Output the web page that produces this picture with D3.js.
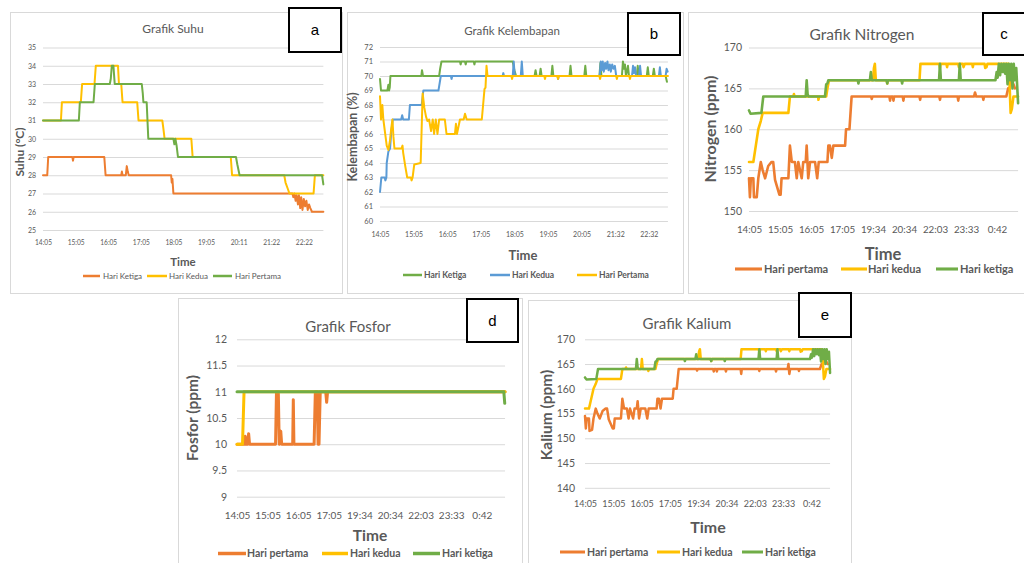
<!DOCTYPE html>
<html>
<head>
<meta charset="utf-8">
<script src="https://cdn.jsdelivr.net/npm/d3@7"></script>
<style>
  html,body{margin:0;padding:0;background:#fff;}
  svg{display:block;font-family:Lato,"Open Sans",sans-serif;}
</style>
</head>
<body>
<script>
// ---------------- DATA ----------------
// x = sample index (10 samples between consecutive time labels), y = measured value

// (a) Grafik Suhu
const suhuTimeLabels = ["14:05","15:05","16:05","17:05","18:05","19:05","20:11","21:22","22:22"];
const suhuTicks = [25,26,27,28,29,30,31,32,33,34,35];
const suhuKetiga = [[0,28],[1.3,28],[1.6,29],[9.0,29],[9.2,28.8],[9.4,29],[18.8,29],[19.2,28],[24.0,28],[24.2,28.2],[24.4,28],[25.4,28],[25.7,28.5],[26.0,28.2],[26.3,28],[39.3,28],[39.5,27.6],[39.7,27.8],[40.0,27],[76.5,27],[76.8,26.8],[77.1,27],[77.5,26.6],[77.8,26.9],[78.2,26.4],[78.5,26.9],[78.9,26.2],[79.2,26.8],[79.6,26.1],[80.0,26.7],[80.4,26.3],[80.8,26.6],[81.2,26.1],[81.6,26.4],[82.0,26.2],[82.5,26.0],[86,26]];
const suhuKedua = [[0,31],[5.5,31],[5.8,32],[11.6,32],[12.0,33],[15.8,33],[16.2,34],[23.0,34],[23.3,33],[24.0,33],[24.4,32],[28.9,32],[29.3,31],[36.6,31],[36.9,30.6],[37.3,30],[45.5,30],[45.9,29],[57.6,29],[58.0,28],[74.0,28],[74.4,27.6],[75.0,27.3],[75.6,27],[83.0,27],[83.4,28],[86,28]];
const suhuPertama = [[0,31],[11.0,31],[11.3,32],[15.5,32],[15.9,33],[20.5,33],[20.8,33.3],[21.1,34],[21.6,34],[22.0,33],[30.3,33],[30.6,32.5],[30.8,32],[31.8,32],[32.3,30],[40.0,30],[40.3,29.7],[40.6,30],[41.0,29.6],[41.4,29],[59.2,29],[59.6,28.6],[60.3,28],[85.6,28],[86,27.5]];

// (b) Grafik Kelembapan
const kelembapanTimeLabels = ["14:05","15:05","16:05","17:05","18:05","19:05","20:05","21:32","22:32"];
const kelembapanTicks = [60,61,62,63,64,65,66,67,68,69,70,71,72];
const kelembapanKetiga = [[0,69.8],[0.3,69],[2.2,69],[2.5,69.4],[2.7,69],[2.9,69.2],[3.1,70],[12.3,70],[12.5,70.4],[12.8,70],[17.6,70],[17.9,70.5],[18.3,71],[23.8,71],[24.0,70.8],[24.2,71],[25.3,71],[25.5,70.8],[25.7,71],[27.9,71],[28.1,70.8],[28.3,71],[39.5,71],[40.0,70.4],[40.5,70],[46.0,70],[46.3,70.4],[46.6,70],[47.5,70],[47.8,70.5],[48.1,70],[51.0,70],[51.3,70.7],[51.6,70],[56.4,70],[56.7,70.7],[57.0,70],[60.8,70],[61.1,70.7],[61.4,70],[65.3,70],[65.6,70.9],[65.9,70],[72.0,70],[72.3,71],[72.6,70.5],[72.9,70.8],[73.2,70],[73.8,70.7],[74.1,70],[76.4,70],[76.7,70.7],[77.0,70],[79.4,70],[79.7,70.6],[80.0,70],[81.2,70],[81.5,70.5],[81.8,70],[85.0,70],[85.4,69.6]];
const kelembapanKedua = [[0,62],[0.4,63],[1.4,63],[1.6,62.8],[1.9,63],[2.0,64],[2.5,64.8],[3.0,65],[3.3,66],[3.8,67],[6.3,67],[6.6,67.3],[6.9,67],[8.6,67],[8.9,68],[12.4,68],[12.9,69],[17.4,69],[18.1,70],[21.1,70],[21.3,69.8],[21.5,70],[36.5,70],[36.7,70.2],[36.9,70],[39.5,70],[39.8,71],[40.1,70],[41.9,70],[42.2,71],[42.5,70],[52.8,70],[53.0,69.8],[53.2,70],[65.4,70],[65.7,71],[66.0,70.4],[66.3,71],[66.6,70.3],[67.0,70.9],[67.3,70.5],[67.7,71],[68.0,70.4],[68.4,70.8],[68.7,70.3],[69.1,70.8],[69.5,70.5],[69.9,70.7],[70.3,70],[75.0,70],[75.3,70.7],[75.6,70.2],[75.9,70.6],[76.2,70],[77.1,70],[77.4,70.7],[77.7,70],[83.0,70],[83.3,70.6],[83.6,70],[85.0,70],[85.3,70.5],[85.6,70.3]];
const kelembapanPertama = [[0,68.6],[0.3,67],[0.7,68],[1.0,67],[1.5,66.1],[2.0,65.2],[2.5,64.9],[3.0,65.6],[3.3,66.3],[3.7,67],[4.0,65.8],[4.3,65],[6.4,65],[6.7,65.2],[6.9,64.7],[7.5,63.8],[8.1,63],[9.2,63],[9.4,62.8],[9.7,63],[10.2,63.9],[12.1,64],[12.7,68.8],[13.2,67.8],[13.7,67.2],[14.1,66.9],[14.6,67],[15.2,66.2],[15.7,67],[16.1,66],[16.6,67],[17.1,66],[17.6,67],[19.3,67],[19.8,66],[22.3,66],[22.6,66.7],[22.9,66],[23.8,67],[24.9,67],[25.3,67.4],[25.8,67],[30.3,67],[30.8,68.3],[31.1,69.1],[31.4,69.2],[31.7,70.7],[32.0,70],[39.1,70],[39.3,69.8],[39.5,70],[48.9,70],[49.1,69.8],[49.3,70],[52.8,70],[53.0,69.8],[53.2,70],[65.3,70],[65.5,69.8],[65.7,70],[70.3,70],[70.5,69.8],[70.7,70],[74.2,70],[74.4,69.8],[74.6,70],[85.7,70]];

// (c) Grafik Nitrogen, (d) Grafik Fosfor, (e) Grafik Kalium share time labels
const nutrientTimeLabels = ["14:05","15:05","16:05","17:05","19:34","20:34","22:03","23:33","0:42"];
const nitrogenTicks = [150,155,160,165,170];
const nitrogenPertama = [[0,154],[0.3,151.7],[0.6,154],[1.4,154],[1.6,151.7],[2.5,151.7],[3.0,154],[3.8,156],[4.4,155],[5.2,154],[6.2,155.5],[7.3,156],[7.8,156],[8.4,153.8],[9.8,152],[10.2,152],[10.5,154],[12.7,154],[13.2,158],[13.8,156],[14.8,156],[15.4,154],[15.9,156],[17.0,154],[17.5,156],[18.3,156],[18.6,158],[19.1,154],[19.7,156],[21.3,156],[22.0,154],[22.5,156],[25.3,156],[25.6,158],[26.1,158],[26.7,156.5],[27.2,158],[31.0,158],[31.3,160],[32.4,160],[33.1,164],[39.4,164],[39.6,163.7],[39.8,164],[45.3,164],[45.5,163.5],[45.7,164],[46.4,164],[46.6,163.5],[46.8,164],[49.6,164],[49.8,163.5],[50.0,164],[55.0,164],[55.2,163.6],[55.4,164],[61.4,164],[61.6,163.6],[61.8,164],[67.3,164],[67.5,163.5],[67.7,164],[72.6,164],[72.9,164.5],[73.3,164],[75.4,164],[75.6,163.6],[75.8,164],[83.0,164],[83.6,165],[84.0,164.8],[84.7,166],[85.3,165.5],[85.8,165]];
const nitrogenKedua = [[0,156],[1.4,156],[2.2,158],[3.0,160],[3.8,161],[4.4,162],[12.7,162],[13.2,164],[14.3,164],[14.5,164.3],[14.7,164],[22.3,164],[22.4,163.6],[22.6,164],[24.9,164],[25.3,165],[25.8,166],[40.0,166],[40.3,167.5],[40.6,168],[40.9,166],[44.4,166],[44.6,165.6],[44.8,166],[55.0,166],[55.3,168],[61.4,168],[61.6,167.5],[61.8,168],[63.7,168],[63.9,167.6],[64.1,168],[67.5,168],[67.7,167.6],[67.9,168],[69.0,168],[69.2,167.6],[69.6,168],[72.0,168],[72.2,167.6],[72.4,168],[76.0,168],[76.2,167.5],[76.6,167.6],[76.9,168],[83.7,168],[84.1,165],[84.4,162],[84.8,162.5],[85.3,164],[86.8,164]];
const nitrogenKetiga = [[0,162.3],[0.5,161.9],[4.0,162],[4.6,164],[18.3,164],[18.6,166],[18.9,164.3],[19.2,164],[24.5,164],[24.9,165.5],[25.3,165.6],[25.6,166],[35.1,166],[35.3,165.6],[35.5,166],[39.0,166],[39.3,167],[39.6,166],[44.4,166],[44.6,165.6],[44.8,166],[49.2,166],[49.4,165.6],[49.6,166],[61.3,166],[61.6,168],[61.9,166],[67.7,166],[68.0,168],[68.3,166],[79.5,166],[79.9,167],[80.2,166.3],[80.6,168],[81.0,166.6],[81.4,168],[81.8,167],[82.2,168],[82.6,166.8],[83.0,168],[83.4,165.5],[83.8,168],[84.2,166],[84.6,168],[85.0,165],[85.4,168],[85.8,166],[86.2,167.5],[86.8,163.2]];

const fosforTicks = [9,9.5,10,10.5,11,11.5,12];
const fosforPertama = [[0,10],[2.4,10],[2.7,10.15],[3.0,10],[3.5,10],[3.8,10.2],[4.1,10],[12.6,10],[12.9,11],[13.5,11],[13.8,10],[14.3,10.25],[14.6,10],[18.2,10],[18.4,10.85],[18.6,10],[25.2,10],[25.6,11],[26.2,11],[26.5,10],[26.8,10],[27.2,11],[29.0,11],[29.3,10.8],[29.6,11],[87.6,11]];
const fosforKedua = [[0,10],[1.8,10],[2.3,11],[87.6,11]];
const fosforKetiga = [[0,11],[87.2,11],[87.5,10.78]];

const kaliumTicks = [140,145,150,155,160,165,170];
const kaliumPertama = [[0,154.5],[0.3,152],[0.6,154],[1.4,154],[1.6,151.5],[2.5,151.7],[3.0,154],[3.8,156],[4.4,155],[5.2,154],[6.2,155.5],[7.3,156],[7.8,156],[8.4,153.8],[9.8,152],[10.2,152],[10.5,154],[12.7,154],[13.2,158],[13.8,156],[14.8,156],[15.4,154],[15.9,156],[17.0,154],[17.5,156],[18.3,156],[18.6,157.5],[19.1,154],[19.7,156],[21.3,156],[22.0,154],[22.5,156],[25.3,156],[25.6,158],[26.1,158],[26.7,156],[27.2,158],[31.0,158],[31.3,160],[32.4,160],[33.1,164],[39.4,164],[39.6,163.7],[39.8,164],[45.3,164],[45.5,163.5],[45.7,164],[46.4,164],[46.6,163.5],[46.8,164],[49.6,164],[49.8,163.5],[50.0,164],[55.0,164],[55.2,163],[55.4,164],[61.4,164],[61.6,163.6],[61.8,164],[67.3,164],[67.5,163.5],[67.7,164],[71.6,164],[71.9,165],[72.2,163],[72.5,164],[75.4,164],[75.6,163.6],[75.8,164],[83.0,164],[83.6,165],[84.0,164.8],[84.7,166],[85.3,165.5],[85.8,165]];
const kaliumKedua = [[0,156],[1.4,156],[2.2,158],[3.0,160],[3.8,161],[4.4,162],[12.7,162],[13.2,164],[14.3,164],[14.5,164.3],[14.7,164],[19.8,164],[20.1,166],[20.4,164],[22.3,164],[22.4,163.6],[22.6,164],[24.9,164],[25.3,165],[25.8,166],[40.0,166],[40.3,167.5],[40.6,168],[40.9,166],[44.4,166],[44.6,165.6],[44.8,166],[55.0,166],[55.3,168],[61.4,168],[61.6,167.5],[61.8,168],[63.7,168],[63.9,167.6],[64.1,168],[67.5,168],[67.7,167.6],[67.9,168],[69.0,168],[69.2,167.6],[69.6,168],[72.0,168],[72.2,167.6],[72.4,168],[76.0,168],[76.2,167.5],[76.6,167.6],[76.9,168],[83.7,168],[84.1,165],[84.4,162],[84.8,162.5],[85.3,164],[86.6,164]];
const kaliumKetiga = [[0,162.3],[0.5,161.9],[4.0,162],[4.6,164],[18.0,164],[18.3,166],[18.6,164.3],[18.9,164],[24.5,164],[24.9,165.5],[25.3,165.6],[25.6,166],[35.1,166],[35.3,165.6],[35.5,166],[39.0,166],[39.3,167],[39.6,166],[44.4,166],[44.6,165.6],[44.8,166],[49.2,166],[49.4,165.6],[49.6,166],[61.3,166],[61.6,168],[61.9,166],[67.7,166],[68.0,168],[68.3,166],[79.5,166],[79.9,167],[80.2,166.3],[80.6,168],[81.0,166.6],[81.4,168],[81.8,167],[82.2,168],[82.6,166.8],[83.0,168],[83.4,165.5],[83.8,168],[84.2,166],[84.6,168],[85.0,165],[85.4,168],[85.8,166],[86.2,167.5],[86.6,163.2]];

// ---------------- STYLE / LAYOUT ----------------
const C = {orange:"#ED7D31", yellow:"#FFC000", green:"#70AD47", blue:"#5B9BD5", text:"#595959", grid:"#d9d9d9"};

const panels = [
  { // a
    frame:[10,12,332,281], letter:"a", box:[289,8,52,44],
    title:"Grafik Suhu", titlePos:[173,29], titleSize:12,
    x0:43, step:32.6, xMax:86, xLabels:suhuTimeLabels, xLabelY:243,
    yDomain:[25,35], yRange:[230,47.5], yTicks:suhuTicks, yPad:7, yTickSize:7, xTickSize:6.6,
    xTitlePos:[183,262], xTitleSize:11.5, yTitle:"Suhu (°C)", yTitlePos:[20,152], yTitleSize:12,
    lw:2, legendY:276, legendSize:8, legendBold:false,
    series:[
      {name:"Hari Ketiga", data:suhuKetiga, color:C.orange, leg:[83,100,102]},
      {name:"Hari Kedua", data:suhuKedua, color:C.yellow, leg:[147,167,168]},
      {name:"Hari Pertama", data:suhuPertama, color:C.green, leg:[213,232,234]}
    ]
  },
  { // b
    frame:[347,12,336,281], letter:"b", box:[628,13,52,42],
    title:"Grafik Kelembapan", titlePos:[512,31], titleSize:11.5,
    x0:380, step:33.6, xMax:85.7, xLabels:kelembapanTimeLabels, xLabelY:235,
    yDomain:[60,72], yRange:[221,47], yTicks:kelembapanTicks, yPad:7, yTickSize:7.5, xTickSize:7,
    xTitlePos:[523,255], xTitleSize:13, yTitle:"Kelembapan (%)", yTitlePos:[353,137], yTitleSize:12.5,
    lw:2, legendY:275, legendSize:8.5, legendBold:true,
    series:[
      {name:"Hari Ketiga", data:kelembapanKetiga, color:C.green, leg:[403,422,423]},
      {name:"Hari Kedua", data:kelembapanKedua, color:C.blue, leg:[490,510,511]},
      {name:"Hari Pertama", data:kelembapanPertama, color:C.yellow, leg:[577,597,598]}
    ]
  },
  { // c
    frame:[688,12,345,281], letter:"c", box:[983,13,42,42],
    title:"Grafik Nitrogen", titlePos:[862,35], titleSize:15.5,
    x0:749, step:31, xMax:86.8, xLabels:nutrientTimeLabels, xLabelY:230,
    yDomain:[150,170], yRange:[211,47.5], yTicks:nitrogenTicks, yPad:7, yTickSize:10.5, xTickSize:9.8,
    xTitlePos:[883,254], xTitleSize:16.5, yTitle:"Nitrogen (ppm)", yTitlePos:[710,129], yTitleSize:16,
    lw:2.6, legendY:269, legendSize:11, legendBold:true,
    series:[
      {name:"Hari pertama", data:nitrogenPertama, color:C.orange, leg:[735,762,763]},
      {name:"Hari kedua", data:nitrogenKedua, color:C.yellow, leg:[841,867,867]},
      {name:"Hari ketiga", data:nitrogenKetiga, color:C.green, leg:[936,958,959]}
    ]
  },
  { // d
    frame:[178,298,344,280], letter:"d", box:[467,299,51,43],
    title:"Grafik Fosfor", titlePos:[348,327], titleSize:15,
    x0:237, step:30.6, xMax:87.6, xLabels:nutrientTimeLabels, xLabelY:515,
    yDomain:[9,12], yRange:[496.7,339.3], yTicks:fosforTicks, yPad:10, yTickSize:10.5, xTickSize:10,
    xTitlePos:[370,536], xTitleSize:15.5, yTitle:"Fosfor (ppm)", yTitlePos:[193,418], yTitleSize:15.5,
    lw:3, legendY:553.5, legendSize:10.5, legendBold:true,
    series:[
      {name:"Hari pertama", data:fosforPertama, color:C.orange, leg:[218,246,246]},
      {name:"Hari kedua", data:fosforKedua, color:C.yellow, leg:[322,348,349]},
      {name:"Hari ketiga", data:fosforKetiga, color:C.green, leg:[413,440,441]}
    ]
  },
  { // e
    frame:[528,300,323,280], letter:"e", box:[799,293,52,44],
    title:"Grafik Kalium", titlePos:[687,324], titleSize:15,
    x0:585, step:28.3, xMax:86.6, xLabels:nutrientTimeLabels, xLabelY:504,
    yDomain:[140,170], yRange:[487.8,339.3], yTicks:kaliumTicks, yPad:10, yTickSize:10.5, xTickSize:9,
    xTitlePos:[708,527], xTitleSize:16, yTitle:"Kalium (ppm)", yTitlePos:[547,415], yTitleSize:15.5,
    lw:2.5, legendY:552, legendSize:10.5, legendBold:true,
    series:[
      {name:"Hari pertama", data:kaliumPertama, color:C.orange, leg:[560,585,586]},
      {name:"Hari kedua", data:kaliumKedua, color:C.yellow, leg:[657,680,681]},
      {name:"Hari ketiga", data:kaliumKetiga, color:C.green, leg:[742,763,764]}
    ]
  }
];

// ---------------- DRAW ----------------
const svg = d3.select("body").append("svg").attr("width",1024).attr("height",563);
svg.append("rect").attr("width",1024).attr("height",563).attr("fill","#fff");

function drawPanel(p){
  const g = svg.append("g");
  g.append("rect")
    .attr("x",p.frame[0]+0.5).attr("y",p.frame[1]+0.5)
    .attr("width",p.frame[2]).attr("height",p.frame[3])
    .attr("fill","#fff").attr("stroke",C.grid).attr("stroke-width",1);

  const x = d3.scaleLinear().domain([0,p.xMax]).range([p.x0, p.x0 + p.xMax*p.step/10]);
  const y = d3.scaleLinear().domain(p.yDomain).range(p.yRange);
  const plotW = x.range()[1]-x.range()[0];

  // y axis with gridlines
  const ya = g.append("g").attr("transform",`translate(${p.x0},0)`)
    .call(d3.axisLeft(y).tickValues(p.yTicks).tickSize(-plotW).tickPadding(p.yPad).tickFormat(d=>String(d)));
  ya.select(".domain").remove();
  ya.selectAll(".tick line").attr("stroke",C.grid).attr("stroke-width",1).attr("x1",0);
  ya.selectAll(".tick text").attr("fill",C.text).attr("font-size",p.yTickSize)
    .attr("font-family","Lato, sans-serif");

  // x axis labels
  const xTickVals = p.xLabels.map((d,i)=>i*10);
  const xa = g.append("g").attr("transform",`translate(0,${p.xLabelY})`)
    .call(d3.axisBottom(x).tickValues(xTickVals).tickSize(0).tickFormat((d,i)=>p.xLabels[i]));
  xa.select(".domain").remove();
  xa.selectAll(".tick text").attr("y",0).attr("dy","0.35em").attr("fill",C.text)
    .attr("font-size",p.xTickSize).attr("font-family","Lato, sans-serif");

  // series
  const line = d3.line().x(d=>x(d[0])).y(d=>y(d[1]));
  p.series.forEach(s=>{
    g.append("path").datum(s.data).attr("d",line)
      .attr("fill","none").attr("stroke",s.color).attr("stroke-width",p.lw)
      .attr("stroke-linejoin","round").attr("stroke-linecap","round");
  });

  // title
  g.append("text").attr("x",p.titlePos[0]).attr("y",p.titlePos[1]).attr("dy","0.35em")
    .attr("text-anchor","middle").attr("fill",C.text).attr("font-size",p.titleSize).text(p.title);
  // axis titles
  g.append("text").attr("x",p.xTitlePos[0]).attr("y",p.xTitlePos[1]).attr("dy","0.35em")
    .attr("text-anchor","middle").attr("fill",C.text).attr("font-weight","bold")
    .attr("font-size",p.xTitleSize).text("Time");
  g.append("text").attr("transform",`translate(${p.yTitlePos[0]},${p.yTitlePos[1]}) rotate(-90)`)
    .attr("dy","0.35em").attr("text-anchor","middle").attr("fill",C.text).attr("font-weight","bold")
    .attr("font-size",p.yTitleSize).text(p.yTitle);

  // legend
  p.series.forEach(s=>{
    g.append("line").attr("x1",s.leg[0]).attr("x2",s.leg[1]).attr("y1",p.legendY).attr("y2",p.legendY)
      .attr("stroke",s.color).attr("stroke-width",p.lw+0.5);
    g.append("text").attr("x",s.leg[2]+1).attr("y",p.legendY).attr("dy","0.35em")
      .attr("fill",C.text).attr("font-size",p.legendSize)
      .attr("font-weight",p.legendBold?"bold":"normal").text(s.name);
  });

  // letter box
  g.append("rect").attr("x",p.box[0]).attr("y",p.box[1]).attr("width",p.box[2]).attr("height",p.box[3])
    .attr("fill","#fff").attr("stroke","#000").attr("stroke-width",2);
  g.append("text").attr("x",p.box[0]+p.box[2]/2).attr("y",p.box[1]+p.box[3]/2).attr("dy","0.35em")
    .attr("text-anchor","middle").attr("fill","#000").attr("font-size",15)
    .attr("font-family","'Liberation Sans', Arial, sans-serif").text(p.letter);
}

panels.forEach(drawPanel);
</script>
</body>
</html>
